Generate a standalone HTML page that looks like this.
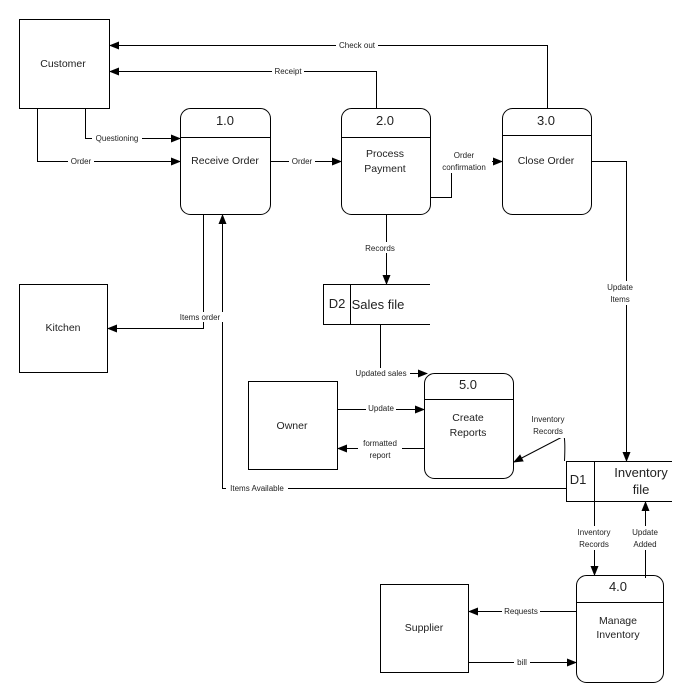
<!DOCTYPE html>
<html><head><style>
html,body{margin:0;padding:0;background:#fff;}
svg{display:block;font-family:"Liberation Sans",sans-serif;}
.s{font-size:8px;fill:#222;}
.m{font-size:10.5px;fill:#222;}
.n{font-size:13px;fill:#222;}
</style></head><body>
<svg width="679" height="700" viewBox="0 0 679 700" xmlns="http://www.w3.org/2000/svg">
<defs><marker id="a" markerWidth="10" markerHeight="8" refX="9" refY="4" orient="auto" markerUnits="userSpaceOnUse"><path d="M0,0 L10,4 L0,8 z" fill="#000"/></marker></defs>
<g fill="none" stroke="#000" stroke-width="1">
<!-- entities -->
<rect x="19.5" y="19.5" width="90" height="89"/>
<rect x="19.5" y="284.5" width="88" height="88"/>
<rect x="248.5" y="381.5" width="89" height="88"/>
<rect x="380.5" y="584.5" width="88" height="88"/>
<!-- processes -->
<rect x="180.5" y="108.5" width="90" height="106" rx="10"/><line x1="180" y1="137.5" x2="271" y2="137.5"/>
<rect x="341.5" y="108.5" width="89" height="106" rx="10"/><line x1="341" y1="137.5" x2="431" y2="137.5"/>
<rect x="502.5" y="108.5" width="89" height="106" rx="10"/><line x1="502" y1="135.5" x2="592" y2="135.5"/>
<rect x="424.5" y="373.5" width="89" height="105" rx="10"/><line x1="424" y1="399.5" x2="514" y2="399.5"/>
<rect x="576.5" y="575.5" width="87" height="107" rx="10"/><line x1="576" y1="602.5" x2="664" y2="602.5"/>
<!-- stores -->
<path d="M430,284.5 H323.5 V324.5 H430 M350.5,284.5 V324.5"/>
<path d="M672,461.5 H566.5 V501.5 H672 M594.5,461.5 V501.5"/>
<!-- flows -->
<path d="M547.5,108 V45.5 H110" marker-end="url(#a)"/>
<path d="M376.5,108 V71.5 H110" marker-end="url(#a)"/>
<path d="M85.5,108 V138.5 H180" marker-end="url(#a)"/>
<path d="M37.5,108 V161.5 H180" marker-end="url(#a)"/>
<path d="M271,161.5 H341" marker-end="url(#a)"/>
<path d="M431,197.5 H451.5 V161.5 H502" marker-end="url(#a)"/>
<path d="M592,161.5 H626.5 V461" marker-end="url(#a)"/>
<path d="M386.5,214 V284" marker-end="url(#a)"/>
<path d="M203.5,214 V328.5 H108" marker-end="url(#a)"/>
<path d="M566,488.5 H222.5 V215" marker-end="url(#a)"/>
<path d="M380.5,325 V373.5 H427" marker-end="url(#a)"/>
<path d="M338,409.5 H424" marker-end="url(#a)"/>
<path d="M424,448.5 H338" marker-end="url(#a)"/>
<path d="M564.5,461 C565,450 565,440 564,436 L514,462" marker-end="url(#a)"/>
<path d="M594.5,502 V575" marker-end="url(#a)"/>
<path d="M645.5,578 V502" marker-end="url(#a)"/>
<path d="M576,611.5 H469" marker-end="url(#a)"/>
<path d="M469,662.5 H576" marker-end="url(#a)"/>
</g>
<!-- label backgrounds -->
<g fill="#fff">
<rect x="336" y="40" width="42" height="10"/>
<rect x="272" y="66" width="32" height="10"/>
<rect x="92" y="133" width="50" height="10"/>
<rect x="68" y="156" width="26" height="10"/>
<rect x="289" y="156" width="26" height="10"/>
<rect x="436" y="149" width="56" height="24"/>
<rect x="363" y="242" width="34" height="11"/>
<rect x="602" y="281" width="36" height="24"/>
<rect x="176" y="312" width="47" height="10"/>
<rect x="226" y="483" width="62" height="10"/>
<rect x="352" y="368" width="58" height="10"/>
<rect x="366" y="404" width="30" height="10"/>
<rect x="358" y="438" width="44" height="24"/>
<rect x="526" y="414" width="44" height="24"/>
<rect x="572" y="526" width="44" height="24"/>
<rect x="628" y="526" width="34" height="24"/>
<rect x="502" y="606" width="38" height="10"/>
<rect x="514" y="657" width="16" height="10"/>
</g>
<g class="s" text-anchor="middle">
<text x="357" y="48">Check out</text>
<text x="288" y="74">Receipt</text>
<text x="117" y="141">Questioning</text>
<text x="81" y="164">Order</text>
<text x="302" y="164">Order</text>
<text x="464" y="158">Order</text>
<text x="464" y="170">confirmation</text>
<text x="380" y="251">Records</text>
<text x="620" y="290">Update</text>
<text x="620" y="302">Items</text>
<text x="200" y="320">Items order</text>
<text x="257" y="491">Items Available</text>
<text x="381" y="376">Updated sales</text>
<text x="381" y="411">Update</text>
<text x="380" y="446">formatted</text>
<text x="380" y="458">report</text>
<text x="548" y="422">Inventory</text>
<text x="548" y="434">Records</text>
<text x="594" y="535">Inventory</text>
<text x="594" y="547">Records</text>
<text x="645" y="535">Update</text>
<text x="645" y="547">Added</text>
<text x="521" y="614">Requests</text>
<text x="522" y="665">bill</text>
</g>
<g class="m" text-anchor="middle">
<text x="63" y="67">Customer</text>
<text x="63" y="331">Kitchen</text>
<text x="292" y="429">Owner</text>
<text x="424" y="631">Supplier</text>
<text x="225" y="164">Receive Order</text>
<text x="385" y="157">Process</text>
<text x="385" y="172">Payment</text>
<text x="546" y="164">Close Order</text>
<text x="468" y="421">Create</text>
<text x="468" y="436">Reports</text>
<text x="618" y="624">Manage</text>
<text x="618" y="638">Inventory</text>
</g>
<g class="n" text-anchor="middle">
<text x="225" y="125">1.0</text>
<text x="385" y="125">2.0</text>
<text x="546" y="125">3.0</text>
<text x="468" y="389">5.0</text>
<text x="618" y="591">4.0</text>
<text x="337" y="308">D2</text>
<text x="378" y="309">Sales file</text>
<text x="578" y="484">D1</text>
<text x="641" y="477">Inventory</text>
<text x="641" y="494">file</text>
</g>
</svg>
</body></html>
